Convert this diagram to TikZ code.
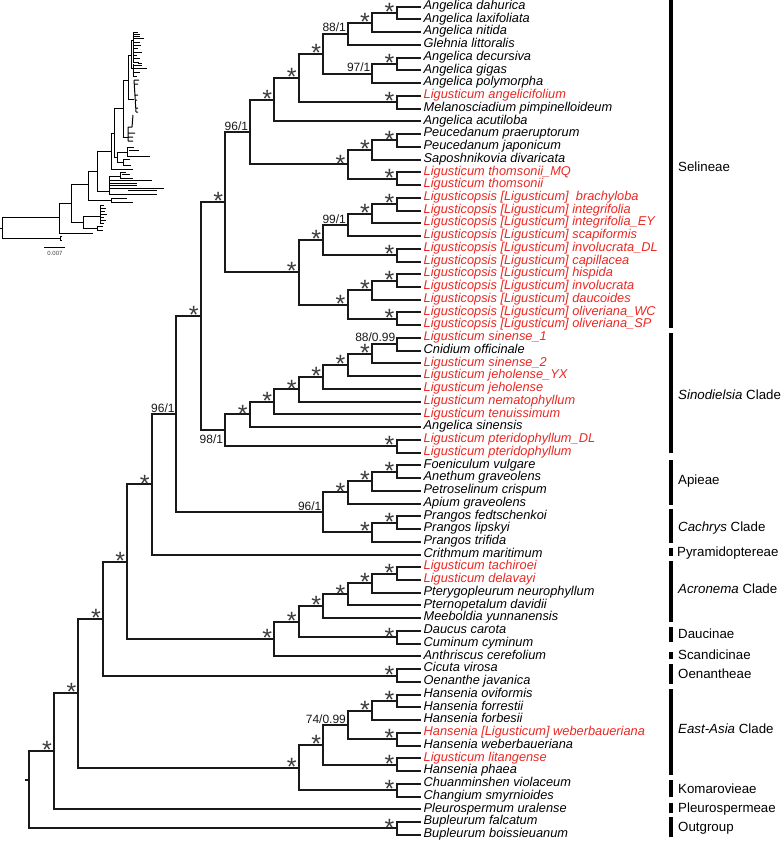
\documentclass[tikz,border=0pt]{standalone}
\usepackage{fontspec}
\setmainfont{Liberation Sans}
\usetikzlibrary{calc}
\definecolor{redlab}{RGB}{235,40,35}
\definecolor{linecol}{RGB}{25,25,25}
\definecolor{starcol}{RGB}{60,60,60}
\newcommand\mknode[4]{\path let \p1=(#3), \p2=(#4) in coordinate (#1) at ({421pt-24.47pt*#2},{0.5*\y1+0.5*\y2});
  \draw[br] (#3) -| (#1) |- (#4);}
\begin{document}
\begin{tikzpicture}[x=1pt,y=-1pt,
  br/.style={line width=2pt, draw=linecol, line join=miter},
  starn/.style={font=\fontsize{25}{25}\selectfont, text=starcol, inner sep=0pt, anchor=center},
  suplab/.style={font=\fontsize{12}{12}\selectfont, text=linecol, inner sep=0pt},
  tiptext/.style={font=\fontsize{12.8}{12.8}\selectfont\itshape, inner sep=0pt, anchor=base west},
  cladelab/.style={font=\fontsize{13.3}{13.3}\selectfont, inner sep=0pt, anchor=base west, text=black},
  bar/.style={line width=4pt, draw=black},
  ins/.style={line width=1pt, draw=black},
  inst/.style={line width=1pt, draw=black}]
\fill[white] (0,0) rectangle (784,841);
\useasboundingbox (0,0) rectangle (784,841);

% ---------- tips ----------
\foreach \i in {1,...,66} \coordinate (t\i) at (421,{6.7+(\i-1)*12.74});

% ---------- internal nodes ----------
\mknode{a1}{1}{t1}{t2}
\mknode{a2}{2}{a1}{t3}
\mknode{a3}{3}{a2}{t4}
\mknode{a4}{1}{t5}{t6}
\mknode{a5}{2}{a4}{t7}
\mknode{a6}{4}{a3}{a5}
\mknode{a7}{1}{t8}{t9}
\mknode{a8}{5}{a6}{a7}
\mknode{a9}{6}{a8}{t10}
\mknode{b1}{1}{t11}{t12}
\mknode{b2}{2}{b1}{t13}
\mknode{b3}{1}{t14}{t15}
\mknode{b4}{3}{b2}{b3}
\mknode{s1}{7}{a9}{b4}
\mknode{c1}{1}{t16}{t17}
\mknode{c2}{2}{c1}{t18}
\mknode{c3}{3}{c2}{t19}
\mknode{c4}{1}{t20}{t21}
\mknode{c5}{4}{c3}{c4}
\mknode{c6}{1}{t22}{t23}
\mknode{c7}{2}{c6}{t24}
\mknode{c8}{1}{t25}{t26}
\mknode{c9}{3}{c7}{c8}
\mknode{c10}{5}{c5}{c9}
\mknode{s2}{8}{s1}{c10}
\mknode{d1}{1}{t27}{t28}
\mknode{d2}{2}{d1}{t29}
\mknode{d3}{3}{d2}{t30}
\mknode{d4}{4}{d3}{t31}
\mknode{d5}{5}{d4}{t32}
\mknode{d6}{6}{d5}{t33}
\mknode{d7}{7}{d6}{t34}
\mknode{d8}{1}{t35}{t36}
\mknode{d9}{8}{d7}{d8}
\mknode{s3}{9}{s2}{d9}
\mknode{e1}{1}{t37}{t38}
\mknode{e2}{2}{e1}{t39}
\mknode{e3}{3}{e2}{t40}
\mknode{f1}{1}{t41}{t42}
\mknode{f2}{2}{f1}{t43}
\mknode{e4}{4}{e3}{f2}
\mknode{s4}{10}{s3}{e4}
\mknode{s5}{11}{s4}{t44}
\mknode{g1}{1}{t45}{t46}
\mknode{g2}{2}{g1}{t47}
\mknode{g3}{3}{g2}{t48}
\mknode{g4}{4}{g3}{t49}
\mknode{h1}{1}{t50}{t51}
\mknode{g5}{5}{g4}{h1}
\mknode{g6}{6}{g5}{t52}
\mknode{s6}{12}{s5}{g6}
\mknode{i1}{1}{t53}{t54}
\mknode{s7}{13}{s6}{i1}
\mknode{j1}{1}{t55}{t56}
\mknode{j2}{2}{j1}{t57}
\mknode{j3}{1}{t58}{t59}
\mknode{j4}{3}{j2}{j3}
\mknode{j5}{1}{t60}{t61}
\mknode{j6}{4}{j4}{j5}
\mknode{k1}{1}{t62}{t63}
\mknode{j7}{5}{j6}{k1}
\mknode{s8}{14}{s7}{j7}
\mknode{s9}{15}{s8}{t64}
\mknode{l1}{1}{t65}{t66}
\mknode{root}{16}{s9}{l1}
\coordinate (rs1) at (25,780);
\coordinate (rs2) at (29.5,780);
\draw[br] (rs1) -- (rs2);

% ---------- stars ----------
\foreach \n in {a1,a2,a4,a6,a7,a8,a9,b1,b2,b3,b4,c1,c2,c4,c5,c6,c7,c8,c9,c10,s2,
  d2,d3,d4,d5,d6,d7,d8,s3,e1,e2,e3,f1,f2,s5,g1,g2,g3,g4,h1,g5,g6,s6,i1,s7,
  j1,j2,j3,j5,j6,k1,j7,s8,s9,l1}
  \node[starn] (st\n) at ([xshift=-7pt,yshift=0.9pt]\n) {*};

% ---------- support values ----------
\foreach \n/\v in {a3/88\slash 1, a5/97\slash 1, s1/96\slash 1, c3/99\slash 1,
  s4/96\slash 1, e4/96\slash 1, j4/74\slash 0.99}
  \node[suplab, anchor=base east] (sl\n) at ([xshift=-1.5pt,yshift=1.8pt]\n) {\v};
\node[suplab, anchor=base east] (sld1) at ([xshift=-1pt,yshift=3pt]d1) {88/0.99};
\node[suplab, anchor=north east] (sld9) at ([xshift=-2pt,yshift=-4pt]d9) {98/1};

% ---------- tip labels ----------
\foreach \i/\c/\t in {
 1/black/Angelica dahurica, 2/black/Angelica laxifoliata, 3/black/Angelica nitida,
 4/black/Glehnia littoralis, 5/black/Angelica decursiva, 6/black/Angelica gigas,
 7/black/Angelica polymorpha, 8/redlab/Ligusticum angelicifolium,
 9/black/Melanosciadium pimpinelloideum, 10/black/Angelica acutiloba,
 11/black/Peucedanum praeruptorum, 12/black/Peucedanum japonicum,
 13/black/Saposhnikovia divaricata, 14/redlab/Ligusticum thomsonii\_MQ,
 15/redlab/Ligusticum thomsonii,
 16/redlab/Ligusticopsis [Ligusticum]\ \ brachyloba,
 17/redlab/Ligusticopsis [Ligusticum] integrifolia,
 18/redlab/Ligusticopsis [Ligusticum] integrifolia\_EY,
 19/redlab/Ligusticopsis [Ligusticum] scapiformis,
 20/redlab/Ligusticopsis [Ligusticum] involucrata\_DL,
 21/redlab/Ligusticopsis [Ligusticum] capillacea,
 22/redlab/Ligusticopsis [Ligusticum] hispida,
 23/redlab/Ligusticopsis [Ligusticum] involucrata,
 24/redlab/Ligusticopsis [Ligusticum] daucoides,
 25/redlab/Ligusticopsis [Ligusticum] oliveriana\_WC,
 26/redlab/Ligusticopsis [Ligusticum] oliveriana\_SP,
 27/redlab/Ligusticum sinense\_1, 28/black/Cnidium officinale,
 29/redlab/Ligusticum sinense\_2, 30/redlab/Ligusticum jeholense\_YX,
 31/redlab/Ligusticum jeholense, 32/redlab/Ligusticum nematophyllum,
 33/redlab/Ligusticum tenuissimum, 34/black/Angelica sinensis,
 35/redlab/Ligusticum pteridophyllum\_DL, 36/redlab/Ligusticum pteridophyllum,
 37/black/Foeniculum vulgare, 38/black/Anethum graveolens,
 39/black/Petroselinum crispum, 40/black/Apium graveolens,
 41/black/Prangos fedtschenkoi, 42/black/Prangos lipskyi, 43/black/Prangos trifida,
 44/black/Crithmum maritimum, 45/redlab/Ligusticum tachiroei,
 46/redlab/Ligusticum delavayi, 47/black/Pterygopleurum neurophyllum,
 48/black/Pternopetalum davidii, 49/black/Meeboldia yunnanensis,
 50/black/Daucus carota, 51/black/Cuminum cyminum, 52/black/Anthriscus cerefolium,
 53/black/Cicuta virosa, 54/black/Oenanthe javanica, 55/black/Hansenia oviformis,
 56/black/Hansenia forrestii, 57/black/Hansenia forbesii,
 58/redlab/Hansenia [Ligusticum] weberbaueriana, 59/black/Hansenia weberbaueriana,
 60/redlab/Ligusticum litangense, 61/black/Hansenia phaea,
 62/black/Chuanminshen violaceum, 63/black/Changium smyrnioides,
 64/black/Pleurospermum uralense, 65/black/Bupleurum falcatum,
 66/black/Bupleurum boissieuanum}
  \node[tiptext, text=\c] (lab\i) at ([xshift=2.5pt,yshift=-2.7pt]t\i) {\t};

% ---------- clade bars and labels ----------
\draw[bar] (671,0) -- (671,328);
\draw[bar] (671,333) -- (671,453);
\draw[bar] (671,460) -- (671,505);
\draw[bar] (671,509) -- (671,543);
\draw[bar] (671,548) -- (671,556);
\draw[bar] (671,561) -- (671,622);
\draw[bar] (671,627) -- (671,642);
\draw[bar] (671,652) -- (671,659);
\draw[bar] (671,664) -- (671,684);
\draw[bar] (671,689) -- (671,775);
\draw[bar] (671,780) -- (671,797);
\draw[bar] (671,803) -- (671,813);
\draw[bar] (671,817) -- (671,837);
\node[cladelab] (cl1) at (678,171.5) {Selineae};
\node[cladelab] (cl2) at (678,399.5) {\textit{Sinodielsia} Clade};
\node[cladelab] (cl3) at (678,484) {Apieae};
\node[cladelab] (cl4) at (678,531) {\textit{Cachrys} Clade};
\node[cladelab] (cl5) at (677,556) {Pyramidoptereae};
\node[cladelab] (cl6) at (678,593.5) {\textit{Acronema} Clade};
\node[cladelab] (cl7) at (678,638.5) {Daucinae};
\node[cladelab] (cl8) at (678,659.5) {Scandicinae};
\node[cladelab] (cl9) at (678,678.5) {Oenantheae};
\node[cladelab] (cl10) at (678,733.5) {\textit{East-Asia} Clade};
\node[cladelab] (cl11) at (678,793.5) {Komarovieae};
\node[cladelab] (cl12) at (678,812) {Pleurospermeae};
\node[cladelab] (cl13) at (678,831) {Outgroup};

% ---------- inset phylogram ----------
\draw[ins] (0,228)--(2,228);
\draw[ins] (2,217)--(2,238);
\draw[ins] (2,238)--(60,238);
\draw[inst] (60,236)--(60,240) (60,236)--(62,236) (60,240)--(62,240);
\draw[ins] (2,217)--(59,217);
\draw[ins] (59,203)--(59,233);
\draw[ins] (59,233)--(93,233);
\draw[ins] (59,203)--(71,203);
\draw[ins] (71,184)--(71,222);
\draw[ins] (71,222)--(83,222);
\draw[ins] (83,216)--(83,228);
\draw[ins] (83,228)--(97,228);
\draw[inst] (97,226)--(97,230) (97,226)--(103,226) (97,230)--(103,230);
\draw[ins] (83,216)--(100,216);
\draw[inst] (100,205)--(100,223);
\foreach \yy/\ll in {205/104,208/106,211/105,214/107,217/104,220/106,223/104}
  \draw[inst] (100,\yy)--(\ll,\yy);
\draw[ins] (71,184)--(88,184);
\draw[ins] (88,171)--(88,200);
\draw[ins] (88,200)--(111,200);
\draw[inst] (111,198)--(111,202) (111,198)--(127,198) (111,202)--(133,202);
\draw[ins] (88,171)--(97,171);
\draw[ins] (97,151)--(97,191);
\draw[ins] (97,191)--(109,191);
\draw[ins] (109,176)--(109,194);
\draw[inst] (109,176)--(120,176) (120,172)--(120,178) (120,172)--(126,172) (122,174)--(130,174) (120,178)--(133,178);
\draw[inst] (109,180)--(152,180) (109,183)--(137,183) (109,185.5)--(137,185.5) (109,188)--(164,188) (128,190.5)--(157,190.5) (109,194)--(157,194);
\draw[ins] (97,151)--(111,151);
\draw[ins] (111,133)--(111,169);
\draw[ins] (111,169)--(133,169);
\draw[ins] (111,133)--(114,133);
\draw[ins] (114,108)--(114,157);
\draw[ins] (114,157)--(117,157);
\draw[inst] (117,152)--(117,162) (117,152)--(127,152) (127,147)--(127,156) (127,147)--(134,147) (129,150)--(139,150) (127,156)--(150,156);
\draw[inst] (117,162)--(123,162) (123,159)--(123,165) (123,159)--(130,159) (123,165)--(131,165);
\draw[ins] (114,108)--(123,108);
\draw[ins] (123,80)--(123,137);
\draw[ins] (123,137)--(128,137);
\draw[inst] (128,127)--(128,141) (128,127)--(132,127) (128,133)--(135,133) (128,137)--(133,137) (128,141)--(133,141) (133,115)--(132,127);
\draw[ins] (123,80)--(128,80);
\draw[ins] (128,55)--(128,99);
\draw[ins] (128,99)--(134,99);
\draw[inst] (134,80)--(136,112) (134,80)--(139,80) (134,84)--(138,84) (135,95)--(138,95) (135,100)--(137,100) (136,108)--(138,108) (136,112)--(138,112);
\draw[ins] (128,55)--(131,55);
\draw[ins] (131,40)--(131,68);
\draw[ins] (131,40)--(133,40);
\draw[inst] (133,32)--(133,62);
\foreach \yy/\ll in {32/138,34/140,36/140,38/144,42/140,45/141,48/138,52/142,55/137,58/140,62/139}
  \draw[inst] (133,\yy)--(\ll,\yy);
\draw[ins] (131,68)--(133,68);
\draw[inst] (133,64)--(133,76) (133,65)--(142,65) (138,63)--(142,63) (133,68)--(147,68) (133,72)--(140,72) (133,76)--(137,76);
\draw[ins] (44,247)--(65,247);
\node[font=\fontsize{6}{6}\selectfont, text=black!75, inner sep=0pt] (scl) at (55,253) {0.007};
\end{tikzpicture}
\end{document}
